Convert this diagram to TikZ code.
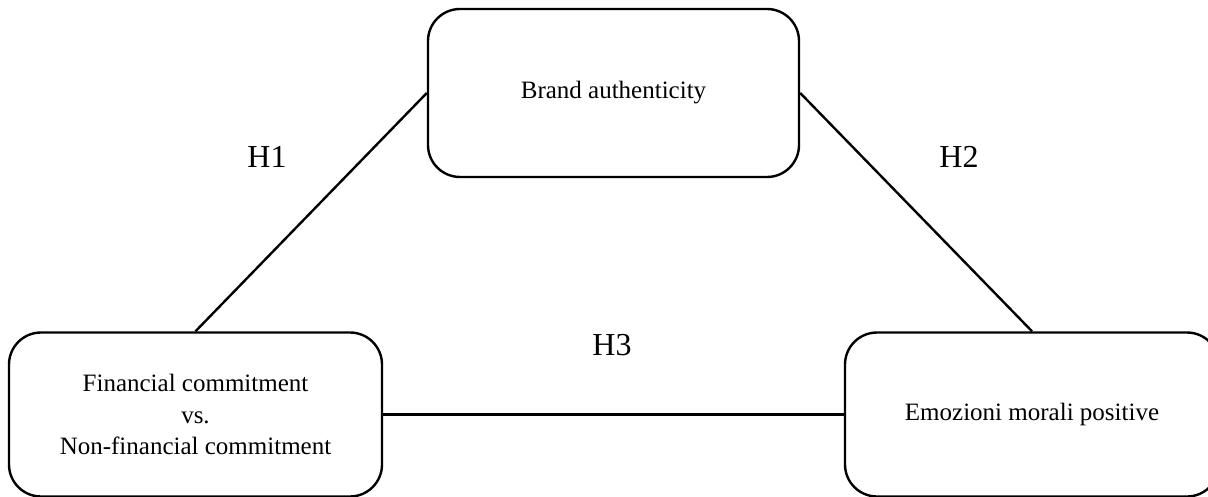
\documentclass[tikz,border=0pt]{standalone}
\usepackage{fontspec}
\setmainfont{Liberation Serif}
\begin{document}
\begin{tikzpicture}[x=0.5pt,y=-0.5pt,
  rbox/.style={draw, line width=1.2pt, rounded corners=16pt, align=center, inner sep=0pt,
    font=\fontsize{12.5}{15.8}\selectfont},
  conn/.style={line width=1.2pt},
  hlab/.style={font=\fontsize{16}{19}\selectfont, inner sep=0pt}]
\clip (0,0) rectangle (1208,497);
\node[rbox, minimum width=185.5pt, minimum height=84pt] (top) at (613.5,93) {Brand authenticity};
\node[rbox, minimum width=186.5pt, minimum height=82pt] (left) at (195.5,414.5) {Financial commitment\\vs.\\Non-financial commitment};
\node[rbox, minimum width=187pt, minimum height=82pt] (right) at (1032,414.5) {Emozioni morali positive};
\draw[conn] (top.west) -- (left.north);
\draw[conn] (top.east) -- (right.north);
\draw[conn] (left.east) -- (right.west);
\node[hlab] (h1) at (267,157) {H1};
\node[hlab] (h2) at (959,157) {H2};
\node[hlab] (h3) at (612,345) {H3};
\end{tikzpicture}
\end{document}
